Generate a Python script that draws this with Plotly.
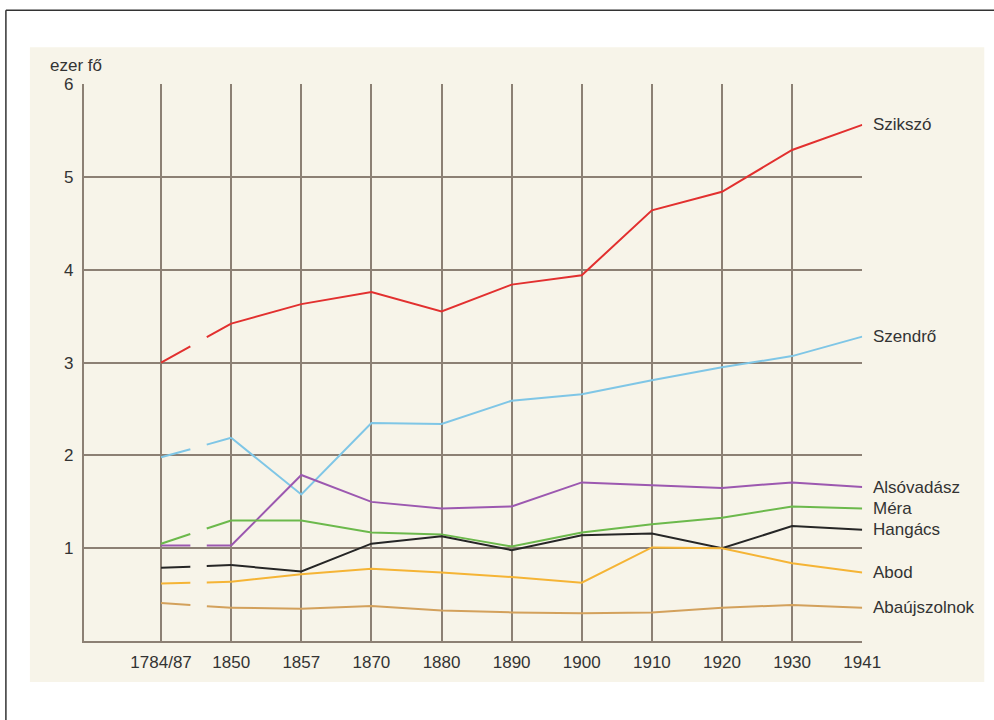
import plotly.graph_objects as go
import math

categories = ["1784/87", "1850", "1857", "1870", "1880", "1890", "1900", "1910", "1920", "1930", "1941"]

szikszo = [3.00, 3.42, 3.63, 3.76, 3.55, 3.84, 3.94, 4.64, 4.84, 5.29, 5.56]
szendro = [1.98, 2.19, 1.58, 2.35, 2.34, 2.59, 2.66, 2.81, 2.95, 3.07, 3.28]
alsovadasz = [1.03, 1.03, 1.79, 1.50, 1.43, 1.45, 1.71, 1.68, 1.65, 1.71, 1.66]
mera = [1.05, 1.30, 1.30, 1.17, 1.15, 1.02, 1.17, 1.26, 1.33, 1.45, 1.43]
hangacs = [0.79, 0.82, 0.75, 1.05, 1.13, 0.98, 1.14, 1.16, 1.00, 1.24, 1.20]
abod = [0.62, 0.64, 0.72, 0.78, 0.74, 0.69, 0.63, 1.01, 1.00, 0.84, 0.74]
abaujszolnok = [0.41, 0.36, 0.35, 0.38, 0.33, 0.31, 0.30, 0.31, 0.36, 0.39, 0.36]

series = [
    ("Szikszó", szikszo, "#e2302f"),
    ("Szendrő", szendro, "#7fc6e6"),
    ("Alsóvadász", alsovadasz, "#9c58b0"),
    ("Méra", mera, "#6cb94c"),
    ("Hangács", hangacs, "#262626"),
    ("Abod", abod, "#f5b435"),
    ("Abaújszolnok", abaujszolnok, "#d3a15c"),
]

# page size (css px); target positions are given in picture px and converted
W, H = 1020, 730
SX, OX, SY, OY = 0.981, 1.1, 0.991, 7.7


def cx(p):
    return (p - OX) / SX


def cy(p):
    return (p - OY) / SY


def fx(p):
    return cx(p) / W


def fy(p):
    return 1 - cy(p) / H


px_left, px_right, px_top, px_bottom = cx(85), cx(863), cy(83), cy(642)
x_min, x_max = -1.1, len(categories) - 1
y_min, y_max = 0, 6
px_per_x = (px_right - px_left) / (x_max - x_min)
px_per_y = (px_bottom - px_top) / (y_max - y_min)

grid_col = "#8c8074"
text_col = "#333333"
font_fam = "Liberation Sans, Arial, sans-serif"
fsize = 17

fig = go.Figure()
xs = list(range(len(categories)))

annotations = []
for name, vals, col in series:
    # first segment (1784/87 -> 1850) drawn with a gap in the middle
    dx = px_per_x
    dy = (vals[1] - vals[0]) * px_per_y
    L = math.hypot(dx, dy)
    dash = f"{0.41*L:.1f}px,{0.23*L:.1f}px,{0.40*L:.1f}px"
    fig.add_trace(go.Scatter(x=xs[:2], y=vals[:2], mode="lines",
                             line=dict(color=col, width=2, dash=dash),
                             showlegend=False, hoverinfo="skip"))
    fig.add_trace(go.Scatter(x=xs[1:], y=vals[1:], mode="lines",
                             line=dict(color=col, width=2),
                             name=name, showlegend=False))
    annotations.append(dict(x=xs[-1], y=vals[-1], xref="x", yref="y",
                            text=name, showarrow=False, xanchor="left",
                            yanchor="middle", xshift=9,
                            font=dict(family=font_fam, size=fsize, color=text_col)))

annotations.append(dict(x=fx(49), y=fy(64), xref="paper", yref="paper",
                        text="ezer fő", showarrow=False, xanchor="left",
                        yanchor="middle",
                        font=dict(family=font_fam, size=fsize, color=text_col)))

shapes = [
    dict(type="rect", xref="paper", yref="paper", x0=fx(31), x1=fx(985),
         y0=fy(683), y1=fy(46), fillcolor="#f7f4e9",
         line=dict(width=0), layer="below"),
    dict(type="line", xref="paper", yref="paper", x0=fx(7), x1=1,
         y0=fy(9), y1=fy(9), line=dict(color="#333333", width=1.5),
         layer="below"),
    dict(type="line", xref="paper", yref="paper", x0=fx(7), x1=fx(7),
         y0=0, y1=fy(9), line=dict(color="#333333", width=1.5),
         layer="below"),
]

fig.update_layout(
    width=W, height=H,
    margin=dict(l=0, r=0, t=0, b=0),
    paper_bgcolor="white",
    plot_bgcolor="rgba(0,0,0,0)",
    showlegend=False,
    annotations=annotations,
    shapes=shapes,
    xaxis=dict(domain=[px_left / W, px_right / W], range=[x_min, x_max],
               tickvals=xs, ticktext=categories, showgrid=True,
               gridcolor=grid_col, gridwidth=2, zeroline=False,
               showline=True, linecolor=grid_col, linewidth=2, mirror=False,
               ticks="outside", ticklen=4, tickcolor="rgba(0,0,0,0)",
               tickfont=dict(family=font_fam, size=fsize, color=text_col),
               fixedrange=True),
    yaxis=dict(domain=[1 - px_bottom / H, 1 - px_top / H], range=[y_min, y_max],
               tickvals=[1, 2, 3, 4, 5, 6], showgrid=True,
               gridcolor=grid_col, gridwidth=2, zeroline=False,
               showline=True, linecolor=grid_col, linewidth=2,
               ticks="outside", ticklen=5, tickcolor="rgba(0,0,0,0)",
               tickfont=dict(family=font_fam, size=fsize, color=text_col),
               fixedrange=True),
)

post = (
    "var gd=document.getElementById('{plot_id}');"
    "var de=document.documentElement, b=document.body;"
    "de.style.margin='0';de.style.padding='0';de.style.overflow='hidden';"
    "b.style.margin='0';b.style.padding='0';b.style.overflow='hidden';"
    "gd.style.position='fixed';gd.style.left='0px';gd.style.top='0px';"
)

fig.write_html("out.html", config={"displayModeBar": False}, post_script=post)
